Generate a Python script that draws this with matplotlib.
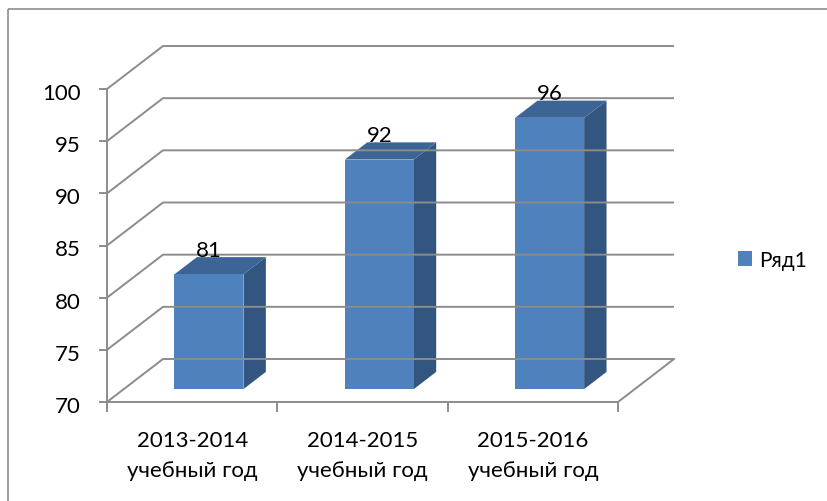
import matplotlib.pyplot as plt
from matplotlib.patches import Polygon, Rectangle

categories = ["2013-2014\nучебный год", "2014-2015\nучебный год", "2015-2016\nучебный год"]
values = [81, 92, 96]
series_name = "Ряд1"
y_ticks = [70, 75, 80, 85, 90, 95, 100]

plt.rcParams['font.family'] = ['Lato', 'DejaVu Sans']

# layout of the 3d box in pixels
X0, Y0 = 107, 403
PPU = 313 / 30.0
CW = 511 / 3.0
DX, DY = 56, 43
VMIN = y_ticks[0]
FS = 16


def P(c, v, d):
	return (X0 + c * CW + d * DX, Y0 - (v - VMIN) * PPU - d * DY)


fig = plt.figure(figsize=(8.28, 5.02), dpi=100)
ax = fig.add_axes([0, 0, 1, 1])
ax.set_xlim(0, 828)
ax.set_ylim(502, 0)
ax.axis('off')

grid = '#8c8c8c'
lw = 1.4
n = len(categories)

# chart area border
ax.add_patch(Rectangle((8, 10), 900, 600, fill=False, edgecolor=grid, lw=1.2))

# gridlines on side wall + back wall, y ticks
for v in y_ticks:
	a = P(0, v, 0)
	b = P(0, v, 1)
	c = P(n, v, 1)
	ax.plot([a[0], b[0], c[0]], [a[1], b[1], c[1]], color=grid, lw=lw, solid_capstyle='butt')
	ax.plot([a[0] - 7, a[0]], [a[1], a[1]], color=grid, lw=lw)
	ax.text(a[0] - 26, a[1] + 10, str(v), ha='right', va='baseline', fontsize=FS)

# floor front + right edge
b = P(0, VMIN, 0)
c = P(n, VMIN, 0)
d = P(n, VMIN, 1)
ax.plot([b[0], c[0], d[0]], [b[1], c[1], d[1]], color=grid, lw=lw)

# left axis
top = P(0, y_ticks[-1], 0)
ax.plot([b[0], top[0]], [b[1], top[1]], color=grid, lw=lw)

# x ticks
for k in range(n + 1):
	p = P(k, VMIN, 0)
	ax.plot([p[0], p[0]], [p[1], p[1] + 9], color=grid, lw=lw)

# category labels
for i, lab in enumerate(categories):
	l1, l2 = lab.split("\n")
	p = P(i + 0.5, VMIN, 0)
	ax.text(p[0], 447, l1, ha='center', va='baseline', fontsize=FS)
	ax.text(p[0], 477, l2, ha='center', va='baseline', fontsize=FS)

# bars
front_c = '#4f81bd'
top_c = '#3c6595'
side_c = '#32567f'
bw = 0.405
d0, d1 = 0.3, 0.7
for i, v in enumerate(values):
	x0 = i + (1 - bw) / 2
	x1 = x0 + bw
	side = [P(x1, VMIN, d0), P(x1, VMIN, d1), P(x1, v, d1), P(x1, v, d0)]
	ax.add_patch(Polygon(side, closed=True, facecolor=side_c, edgecolor='none'))
	topf = [P(x0, v, d0), P(x1, v, d0), P(x1, v, d1), P(x0, v, d1)]
	ax.add_patch(Polygon(topf, closed=True, facecolor=top_c, edgecolor='none'))
	front = [P(x0, VMIN, d0), P(x1, VMIN, d0), P(x1, v, d0), P(x0, v, d0)]
	ax.add_patch(Polygon(front, closed=True, facecolor=front_c, edgecolor='none'))
	lp = P(i + 0.5, v, d0)
	ly = P(i + 0.5, v, d1)[1]
	ax.text(lp[0], ly - 1.5, str(v), ha='center', va='baseline', fontsize=FS)

# legend
ax.add_patch(Rectangle((738, 252), 14, 15, facecolor=front_c, edgecolor='none'))
ax.text(759, 267, series_name, ha='left', va='baseline', fontsize=15)

fig.savefig('out.png', dpi=100)
